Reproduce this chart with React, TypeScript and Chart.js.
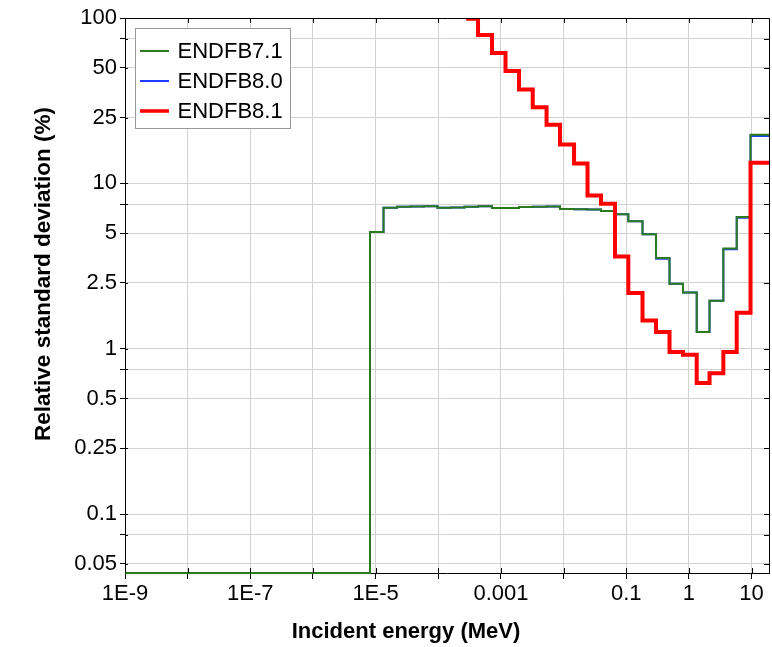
import React, { useEffect, useRef } from 'react';
import { Chart, registerables } from 'chart.js';

Chart.register(...registerables);

const FONT = '"Liberation Sans", Arial, Helvetica, sans-serif';

// Series names and colours
const seriesLabels = ['ENDFB7.1', 'ENDFB8.0', 'ENDFB8.1'];
const seriesColors = ['#2b7a1f', '#1f3dff', '#ff0000'];

// Group boundaries (MeV) shared by ENDFB7.1 and ENDFB8.0 (last entry = end of last group)
const energyGrid = [
  1e-9, 8.14e-6, 1.337e-5, 2.2e-5, 3.61e-5, 5.92e-5, 9.73e-5, 1.6e-4, 2.62e-4, 4.31e-4,
  7.21e-4, 1.184e-3, 1.945e-3, 3.22e-3, 5.35e-3, 8.77e-3, 0.0147, 0.0241, 0.0396, 0.0662,
  0.108, 0.182, 0.299, 0.491, 0.806, 1.334, 2.136, 3.548, 5.8, 9.64, 19,
];

// Relative standard deviation (%) per group
const endfb71 = [
  0.044, 5.08, 7.13, 7.22, 7.25, 7.27, 7.13, 7.15, 7.22, 7.27,
  7.09, 7.1, 7.2, 7.22, 7.25, 6.99, 6.97, 6.95, 6.8, 6.5,
  5.89, 4.93, 3.53, 2.47, 2.19, 1.26, 1.95, 4.03, 6.25, 19.7, 19.7,
];
const endfb80 = [
  0.044, 5.08, 7.13, 7.22, 7.25, 7.27, 7.13, 7.15, 7.22, 7.27,
  7.09, 7.1, 7.2, 7.22, 7.25, 6.99, 6.97, 6.95, 6.8, 6.5,
  5.89, 4.93, 3.5, 2.47, 2.19, 1.26, 1.95, 4.0, 6.2, 19.35, 19.35,
];

// ENDFB8.1 group boundaries and values
const energyGridB81 = [
  2.0e-4, 3.0e-4, 4.31e-4, 7.21e-4, 1.184e-3, 1.945e-3, 3.22e-3, 5.35e-3, 8.77e-3, 0.0147,
  0.0241, 0.0396, 0.0662, 0.108, 0.182, 0.299, 0.491, 0.806, 1.334, 2.136,
  3.548, 5.8, 9.64, 19,
];
const endfb81 = [
  200, 99, 79, 61.4, 47.8, 36.9, 28.9, 22.6, 17.2, 13.2,
  8.45, 7.53, 3.61, 2.17, 1.48, 1.26, 0.954, 0.92, 0.62, 0.71,
  0.954, 1.65, 13.3, 13.3,
];

// Axis ticks
const xTickValues = [1e-9, 1e-8, 1e-7, 1e-6, 1e-5, 1e-4, 1e-3, 1e-2, 1e-1, 1, 10];
const xTickLabels = ['1E-9', '', '1E-7', '', '1E-5', '', '0.001', '', '0.1', '1', '10'];
const yTickValues = [0.05, 0.075, 0.1, 0.25, 0.5, 0.75, 1, 2.5, 5, 7.5, 10, 25, 50, 75, 100];
const yTickLabels = ['0.05', '', '0.1', '0.25', '0.5', '', '1', '2.5', '5', '', '10', '25', '50', '', '100'];

const xTitle = 'Incident energy (MeV)';
const yTitle = 'Relative standard deviation (%)';

const decorPlugin = {
  id: 'decor',
  afterDraw(chart: any) {
    const { ctx, chartArea: a, scales } = chart;
    ctx.save();
    ctx.strokeStyle = '#000';
    ctx.lineWidth = 1;
    // frame (top and right)
    ctx.beginPath();
    ctx.moveTo(a.left, a.top + 0.5);
    ctx.lineTo(a.right + 0.5, a.top + 0.5);
    ctx.lineTo(a.right + 0.5, a.bottom);
    ctx.stroke();
    // ticks on all sides (inner parts)
    ctx.beginPath();
    scales.x.ticks.forEach((t: any) => {
      const px = Math.round(scales.x.getPixelForValue(t.value)) + 0.5;
      ctx.moveTo(px, a.bottom);
      ctx.lineTo(px, a.bottom - 5);
      ctx.moveTo(px, a.top);
      ctx.lineTo(px, a.top + 5);
    });
    scales.y.ticks.forEach((t: any) => {
      const py = Math.round(scales.y.getPixelForValue(t.value)) + 0.5;
      ctx.moveTo(a.left, py);
      ctx.lineTo(a.left + 3, py);
      ctx.moveTo(a.right + 0.5, py);
      ctx.lineTo(a.right - 5, py);
    });
    ctx.stroke();

    // axis titles
    ctx.fillStyle = '#000';
    ctx.font = 'bold 22px ' + FONT;
    ctx.textAlign = 'center';
    ctx.textBaseline = 'alphabetic';
    ctx.fillText(xTitle, 406, 638);
    ctx.save();
    ctx.font = 'bold 22.5px ' + FONT;
    ctx.translate(49.5, 274);
    ctx.rotate(-Math.PI / 2);
    ctx.fillText(yTitle, 0, 0);
    ctx.restore();

    // legend box
    const bx = 135.5, by = 28.5, bw = 155, bh = 100;
    ctx.fillStyle = '#fff';
    ctx.fillRect(bx, by, bw, bh);
    ctx.strokeStyle = '#999';
    ctx.strokeRect(bx, by, bw, bh);
    const sampleW = [2, 2, 3.5];
    chart.data.datasets.forEach((ds: any, i: number) => {
      const ly = 51 + i * 30;
      ctx.strokeStyle = ds.borderColor;
      ctx.lineWidth = sampleW[i];
      ctx.beginPath();
      ctx.moveTo(140, ly);
      ctx.lineTo(169, ly);
      ctx.stroke();
      ctx.fillStyle = '#000';
      ctx.font = '22px ' + FONT;
      ctx.textAlign = 'left';
      ctx.textBaseline = 'alphabetic';
      ctx.fillText(ds.label, 177.5, 57.5 + i * 30);
    });
    ctx.restore();
  },
};

export default function App() {
  const canvasRef = useRef<HTMLCanvasElement | null>(null);

  useEffect(() => {
    const canvas = canvasRef.current;
    if (!canvas) return;
    const mk = (xs: number[], ys: number[]) => xs.map((x, i) => ({ x, y: ys[i] }));
    const chart = new Chart(canvas, {
      type: 'line',
      data: {
        datasets: [
          {
            label: seriesLabels[0],
            data: mk(energyGrid, endfb71),
            borderColor: seriesColors[0],
            borderWidth: 2,
            stepped: 'before',
            pointRadius: 0,
            order: 1,
            clip: { left: 0, top: 0, right: 0, bottom: 2 },
          },
          {
            label: seriesLabels[1],
            data: mk(energyGrid, endfb80),
            borderColor: seriesColors[1],
            borderWidth: 2,
            stepped: 'before',
            pointRadius: 0,
            order: 2,
            clip: { left: 0, top: 0, right: 0, bottom: 2 },
          },
          {
            label: seriesLabels[2],
            data: mk(energyGridB81, endfb81),
            borderColor: seriesColors[2],
            borderWidth: 4,
            stepped: 'before',
            pointRadius: 0,
            order: 0,
          },
        ],
      },
      options: {
        animation: false,
        responsive: false,
        maintainAspectRatio: false,
        parsing: true,
        layout: { padding: { top: 18, right: 3, left: 0, bottom: 0 } },
        plugins: { legend: { display: false }, tooltip: { enabled: false } },
        scales: {
          x: {
            type: 'logarithmic',
            min: 1e-9,
            max: 19,
            afterFit: (s: any) => { s.height = 74; },
            afterBuildTicks: (s: any) => { s.ticks = xTickValues.map((v) => ({ value: v })); },
            ticks: {
              autoSkip: false,
              maxRotation: 0,
              padding: 2,
              color: '#000',
              font: { size: 22, family: FONT },
              callback: (v: any) => {
                const i = xTickValues.findIndex((t) => Math.abs(Math.log10(t) - Math.log10(v)) < 1e-6);
                return i >= 0 ? xTickLabels[i] : '';
              },
            },
            grid: { color: '#d2d2d2', lineWidth: 1, tickLength: 6, tickColor: '#000' },
            border: { display: true, color: '#000', width: 1 },
          },
          y: {
            type: 'logarithmic',
            min: 0.044,
            max: 100,
            afterFit: (s: any) => { s.width = 125; },
            afterBuildTicks: (s: any) => { s.ticks = yTickValues.map((v) => ({ value: v })); },
            ticks: {
              autoSkip: false,
              padding: 3,
              color: '#000',
              font: { size: 22, family: FONT },
              callback: (v: any) => {
                const i = yTickValues.findIndex((t) => Math.abs(Math.log10(t) - Math.log10(v)) < 1e-6);
                return i >= 0 ? yTickLabels[i] : '';
              },
            },
            grid: { color: '#d2d2d2', lineWidth: 1, tickLength: 5, tickColor: '#000' },
            border: { display: true, color: '#000', width: 1 },
          },
        },
      },
      plugins: [decorPlugin],
    } as any);
    return () => chart.destroy();
  }, []);

  return (
    <div style={{ position: 'fixed', left: 0, top: 0, width: 772, height: 647, background: '#fff' }}>
      <canvas ref={canvasRef} width={772} height={647} style={{ display: 'block' }} />
    </div>
  );
}
